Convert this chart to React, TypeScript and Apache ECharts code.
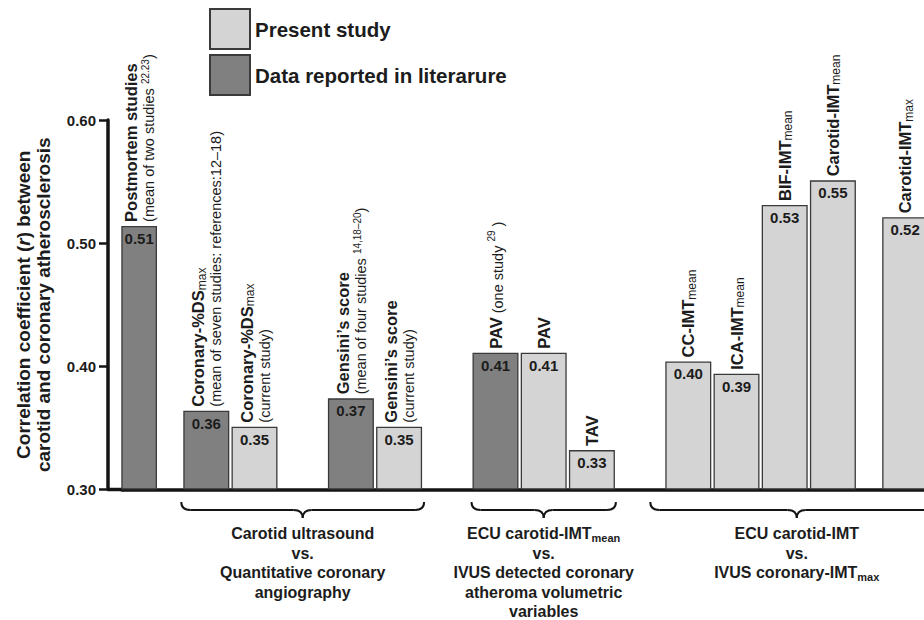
import React, { useEffect, useRef } from 'react';
import * as echarts from 'echarts';

// ---------- data ----------
const legendNames = ['Present study', 'Data reported in literarure'];

const barTitles = [
  'Postmortem studies',
  'Coronary-%DS_{max}',
  'Coronary-%DS_{max}',
  'Gensini’s score',
  'Gensini’s score',
  'PAV',
  'PAV',
  'TAV',
  'CC-IMT_{mean}',
  'ICA-IMT_{mean}',
  'BIF-IMT_{mean}',
  'Carotid-IMT_{mean}',
  'Carotid-IMT_{max}',
];
const barNotes = [
  '(mean of two studies ^{22.23})',
  '(mean of seven studies: references:12–18)',
  '(current study)',
  '(mean of four studies ^{14,18–20})',
  '(current study)',
  '(one study ^{29} )',
  '', '', '', '', '', '', '',
];
const noteOnTitleLine = [false, false, false, false, false, true, false, false, false, false, false, false, false];
const barValues = [0.514, 0.364, 0.351, 0.374, 0.351, 0.411, 0.411, 0.332, 0.404, 0.394, 0.531, 0.551, 0.521];
const barSources = ['literature', 'literature', 'present', 'literature', 'present', 'literature', 'present', 'present', 'present', 'present', 'present', 'present', 'present'];
const barClusters = [0, 1, 1, 2, 2, 3, 3, 3, 4, 4, 4, 4, 5];
const barGroups = [-1, 0, 0, 0, 0, 1, 1, 1, 2, 2, 2, 2, 2];
const groupLabels = [
  'Carotid ultrasound\nvs.\nQuantitative coronary\nangiography',
  'ECU carotid-IMT_{mean}\nvs.\nIVUS detected coronary\natheroma volumetric\nvariables',
  'ECU carotid-IMT\nvs.\nIVUS coronary-IMT_{max}',
];
const yMin = 0.3;
const yMax = 0.6;
const yStep = 0.1;
const yTitle = '{a|Correlation coefficient (}{i|r}{a|) between}\n{a|carotid and coronary atherosclerosis}';

// ---------- layout / style ----------
const FONT = '"Liberation Sans", Arial, Helvetica, sans-serif';
const TEXT = '#1c1c1c';
const LINE = '#141414';
const FILL: Record<string, string> = { present: '#d4d4d4', literature: '#808080' };
const BORDER = '#3a3a3a';
const SLOT = 24.1;
const FIRST_CENTER = 134;
const AXIS_X = 108;
const GRID_TOP = 120;
const BASE_Y = 489.5;
const BAR_W = 46;
const STEP_IN_CLUSTER = 2;
const CLUSTER_STEP = [3, 4, 4, 4, 3];
const BRACE_PAD = [2, 1, 15];
const BRACE_Y = [502, 510, 518];
const BRACE_R = 9;
const GROUP_TEXT_TOP = 524;

function toRich(text: string, base: string, sub: string, sup: string) {
  return text
    .split('\n')
    .map((line) =>
      line
        .split(/(_\{[^}]*\}|\^\{[^}]*\})/)
        .filter((p) => p.length > 0)
        .map((p) => {
          if (p.startsWith('_{')) return `{${sub}|${p.slice(2, -1)}}`;
          if (p.startsWith('^{')) return `{${sup}|${p.slice(2, -1)}}`;
          return `{${base}|${p}}`;
        })
        .join('')
    )
    .join('\n');
}

const slotOfBar: number[] = [];
barValues.forEach((_, i) => {
  if (i === 0) slotOfBar.push(0);
  else
    slotOfBar.push(
      slotOfBar[i - 1] +
        (barClusters[i] === barClusters[i - 1] ? STEP_IN_CLUSTER : CLUSTER_STEP[barClusters[i] - 1])
    );
});
const slotCount = slotOfBar[slotOfBar.length - 1] + 2;
const barAtSlot = (k: number) => slotOfBar.indexOf(k);
const categories = Array.from({ length: slotCount }, (_, k) => {
  const i = barAtSlot(k);
  return i >= 0 ? `${barTitles[i].replace(/_\{|\}/g, '')} ${i}` : '';
});

const seriesData = (src: string | null) =>
  Array.from({ length: slotCount }, (_, k) => {
    const i = barAtSlot(k);
    if (i < 0) return '-';
    if (src && barSources[i] !== src) return '-';
    return barValues[i];
  });

const nameLabels = Array.from({ length: slotCount }, (_, k) => {
  const i = barAtSlot(k);
  if (i < 0) return '';
  const title = toRich(barTitles[i], 't', 'ts', 'tp');
  const note = barNotes[i];
  if (!note) return title;
  if (noteOnTitleLine[i]) return title + toRich(' ' + note, 'n', 'ns', 'np');
  return title + '\n' + toRich(note, 'n', 'ns', 'np');
});

const GRID_LEFT = FIRST_CENTER - SLOT / 2;
const GRID_WIDTH = slotCount * SLOT;

export default function App() {
  const ref = useRef<HTMLDivElement>(null);
  useEffect(() => {
    if (!ref.current) return;
    const chart = echarts.init(ref.current, undefined, { renderer: 'svg' });

    const valueLabel = {
      show: true,
      position: 'insideTop',
      distance: 5,
      formatter: (p: any) => (Math.round(p.value * 100) / 100).toFixed(2),
      fontSize: 15,
      fontWeight: 'bold',
      color: TEXT,
      fontFamily: FONT,
    };
    const base = { type: 'bar', barWidth: BAR_W, barGap: '-100%', clip: true, emphasis: { disabled: true } };

    const option: any = {
      animation: false,
      backgroundColor: '#ffffff',
      textStyle: { fontFamily: FONT },
      legend: {
        data: legendNames,
        orient: 'vertical',
        left: 209,
        top: 8,
        padding: 0,
        itemWidth: 40,
        itemHeight: 40,
        itemGap: 4,
        icon: 'rect',
        selectedMode: false,
        textStyle: { fontSize: 20.5, fontWeight: 'bold', color: TEXT, fontFamily: FONT },
      },
      grid: {
        left: GRID_LEFT,
        top: GRID_TOP,
        width: GRID_WIDTH,
        bottom: 620 - BASE_Y,
        outerBoundsMode: 'none',
        containLabel: false,
      },
      xAxis: {
        type: 'category',
        data: categories,
        axisLine: { show: true, onZero: false, lineStyle: { color: LINE, width: 3.5 } },
        axisTick: { show: false },
        axisLabel: { show: false },
        splitLine: { show: false },
      },
      yAxis: {
        type: 'value',
        min: yMin,
        max: yMax,
        interval: yStep,
        startValue: yMin,
        offset: GRID_LEFT - AXIS_X,
        axisLine: { show: true, lineStyle: { color: LINE, width: 3.5 } },
        axisTick: { show: true, length: 9, lineStyle: { color: LINE, width: 2.5 } },
        axisLabel: {
          formatter: (v: number) => v.toFixed(2),
          fontSize: 15,
          fontWeight: 'bold',
          color: TEXT,
          fontFamily: FONT,
          margin: 12,
        },
        splitLine: { show: false },
        name: yTitle,
        nameLocation: 'middle',
        nameRotate: 90,
        nameGap: 55,
        nameMoveOverlap: false,
        nameTextStyle: {
          rich: {
            a: { fontSize: 19, fontWeight: 'bold', lineHeight: 20, color: TEXT, fontFamily: FONT },
            i: { fontSize: 19, fontWeight: 'bold', fontStyle: 'italic', lineHeight: 20, color: TEXT, fontFamily: FONT },
          },
        },
      },
      series: [
        {
          ...base,
          name: legendNames[0],
          data: seriesData('present'),
          itemStyle: { color: FILL.present, borderColor: BORDER, borderWidth: 1.3 },
          label: valueLabel,
        },
        {
          ...base,
          name: legendNames[1],
          data: seriesData('literature'),
          itemStyle: { color: FILL.literature, borderColor: BORDER, borderWidth: 1.3 },
          label: valueLabel,
        },
        {
          ...base,
          name: 'names',
          silent: true,
          data: seriesData(null),
          itemStyle: { color: 'rgba(0,0,0,0)', borderWidth: 0 },
          label: {
            show: true,
            position: 'top',
            distance: 4,
            rotate: 90,
            align: 'left',
            verticalAlign: 'middle',
            formatter: (p: any) => nameLabels[p.dataIndex],
            rich: {
              t: { fontSize: 16.5, fontWeight: 'bold', lineHeight: 19, color: TEXT, fontFamily: FONT },
              ts: { fontSize: 12, lineHeight: 10, verticalAlign: 'bottom', color: TEXT, fontFamily: FONT },
              tp: { fontSize: 10, lineHeight: 10, verticalAlign: 'top', color: TEXT, fontFamily: FONT },
              n: { fontSize: 14.5, lineHeight: 16, verticalAlign: 'bottom', color: TEXT, fontFamily: FONT },
              ns: { fontSize: 10, lineHeight: 9, verticalAlign: 'bottom', color: TEXT, fontFamily: FONT },
              np: { fontSize: 10, lineHeight: 10, verticalAlign: 'top', color: TEXT, fontFamily: FONT },
            },
          },
        },
      ],
    };
    chart.setOption(option);

    const graphics: any[] = [];
    const yBase = chart.convertToPixel({ yAxisIndex: 0 }, yMin) as number;
    graphics.push({
      type: 'line',
      shape: { x1: AXIS_X, y1: yBase, x2: GRID_LEFT + 2, y2: yBase },
      style: { stroke: LINE, lineWidth: 3.5 },
      silent: true,
    });
    const stroke = { stroke: LINE, lineWidth: 2, fill: 'none' };
    groupLabels.forEach((lbl, g) => {
      const members = barGroups.map((gg, i) => (gg === g ? i : -1)).filter((i) => i >= 0);
      const xs = members.map((i) => chart.convertToPixel({ xAxisIndex: 0 }, slotOfBar[i]) as number);
      const L = Math.min(...xs) - BAR_W / 2 - BRACE_PAD[g];
      const R = Math.max(...xs) + BAR_W / 2 + BRACE_PAD[g];
      const C = (L + R) / 2;
      const [y0, y1, y2] = BRACE_Y;
      const r = BRACE_R;
      graphics.push(
        { type: 'bezierCurve', shape: { x1: L, y1: y0, cpx1: L, cpy1: y1, x2: L + r, y2: y1 }, style: stroke, silent: true },
        { type: 'line', shape: { x1: L + r, y1: y1, x2: C - r, y2: y1 }, style: stroke, silent: true },
        { type: 'bezierCurve', shape: { x1: C - r, y1: y1, cpx1: C, cpy1: y1, x2: C, y2: y2 }, style: stroke, silent: true },
        { type: 'bezierCurve', shape: { x1: C, y1: y2, cpx1: C, cpy1: y1, x2: C + r, y2: y1 }, style: stroke, silent: true },
        { type: 'line', shape: { x1: C + r, y1: y1, x2: R - r, y2: y1 }, style: stroke, silent: true },
        { type: 'bezierCurve', shape: { x1: R - r, y1: y1, cpx1: R, cpy1: y1, x2: R, y2: y0 }, style: stroke, silent: true }
      );
      graphics.push({
        type: 'text',
        x: C,
        y: GROUP_TEXT_TOP,
        silent: true,
        style: {
          text: toRich(lbl, 'g', 'gs', 'gs'),
          align: 'center',
          verticalAlign: 'top',
          fill: TEXT,
          rich: {
            g: { fontSize: 16, fontWeight: 'bold', lineHeight: 19.5, fill: TEXT, fontFamily: FONT },
            gs: { fontSize: 11, fontWeight: 'bold', lineHeight: 10, verticalAlign: 'bottom', fill: TEXT, fontFamily: FONT },
          },
        },
      });
    });
    chart.setOption({ graphic: graphics });

    return () => chart.dispose();
  }, []);

  return (
    <div
      ref={ref}
      style={{ position: 'absolute', left: 0, top: 0, width: 924, height: 620, background: '#fff' }}
    />
  );
}
